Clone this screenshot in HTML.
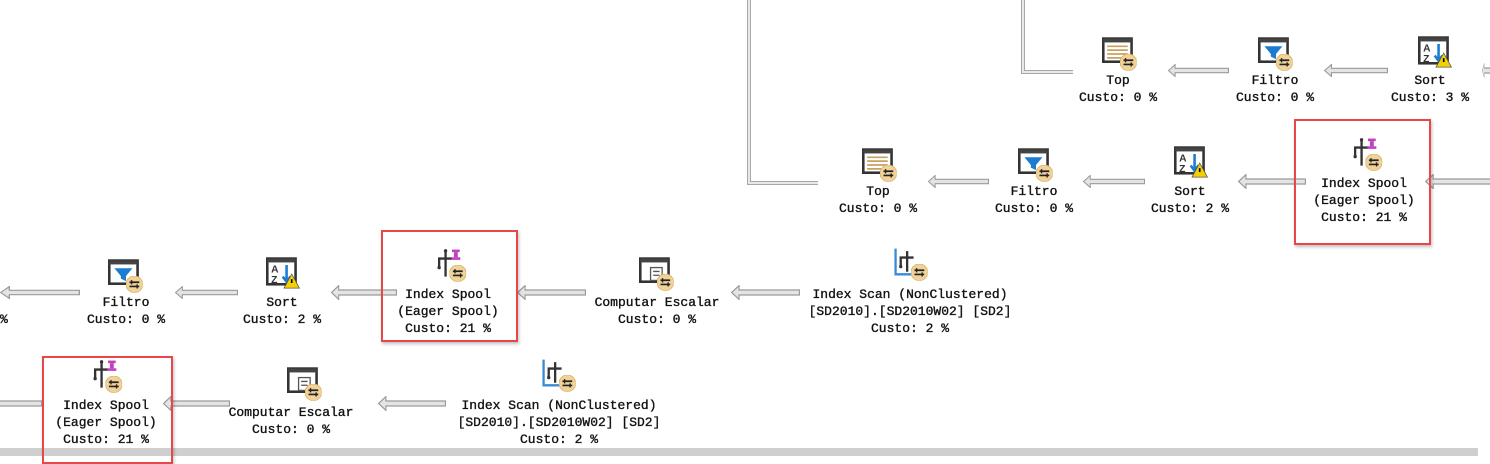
<!DOCTYPE html>
<html><head><meta charset="utf-8"><style>
body{margin:0;width:1490px;height:458px;background:#fff;position:relative;overflow:hidden;font-family:"Liberation Mono",monospace;font-size:13px;color:#111}
.t{position:absolute;text-align:center;white-space:pre;line-height:17px;transform:translateX(-50%);-webkit-text-stroke:0.35px #111;font-weight:normal}
.box{position:absolute;border:2px solid #e8474a;box-shadow:1px 2px 3px rgba(0,0,0,.25)}
svg{position:absolute;left:0;top:0}
</style></head><body>
<svg width="1490" height="458" viewBox="0 0 1490 458">
<defs>
<symbol id="badge" viewBox="0 0 12 12"><circle cx="6" cy="6" r="6" fill="#f0d29a" stroke="#d8b060" stroke-width=".6"/><path d="M2.5 4.5h7M2.5 7.5h7" stroke="#222" stroke-width="1.2"/><path d="M4 3v3M8 6v3" stroke="#222" stroke-width="1"/></symbol>
<symbol id="top" viewBox="0 0 28 28"><rect x="1" y="2" width="22" height="18" fill="#fff" stroke="#333" stroke-width="2"/><rect x="1" y="2" width="22" height="3" fill="#444"/><path d="M4 8h16M4 11h16M4 14h16M4 17h12" stroke="#c9a060" stroke-width="1.3"/><use href="#badge" x="14" y="14" width="13" height="13"/></symbol>
<symbol id="filt" viewBox="0 0 28 28"><rect x="1" y="2" width="22" height="18" fill="#fff" stroke="#333" stroke-width="2"/><rect x="1" y="2" width="22" height="3" fill="#444"/><path d="M5 8h14l-5 6v4l-4-2v-2z" fill="#1c7cd0"/><use href="#badge" x="14" y="14" width="13" height="13"/></symbol>
<symbol id="sort" viewBox="0 0 28 28"><rect x="1" y="2" width="22" height="20" fill="#fff" stroke="#333" stroke-width="2"/><rect x="1" y="2" width="22" height="3" fill="#444"/><text x="4" y="13" font-size="8" font-family="Liberation Sans" font-weight="bold" fill="#333">A</text><text x="4" y="21" font-size="8" font-family="Liberation Sans" font-weight="bold" fill="#333">Z</text><path d="M16 7v12M13 16l3 4 3-4" stroke="#1c7cd0" stroke-width="2" fill="none"/><path d="M20 14l6 11h-12z" fill="#f5d000" stroke="#555" stroke-width=".6"/><path d="M20 18v3" stroke="#000" stroke-width="1.3"/></symbol>
<symbol id="spool" viewBox="0 0 28 28"><path d="M9 3v20M9 9H4v7M9 9h5" stroke="#333" stroke-width="1.8" fill="none"/><circle cx="9" cy="3" r="1.3" fill="#333"/><circle cx="4" cy="16" r="1.3" fill="#333"/><rect x="14" y="2" width="6" height="2" fill="#c040c0"/><rect x="15.5" y="4" width="3" height="4" fill="#c040c0"/><rect x="13.5" y="8" width="7" height="2" fill="#c040c0"/><use href="#badge" x="12" y="14" width="13" height="13"/></symbol>
<symbol id="scan" viewBox="0 0 28 28"><path d="M2 2v20h20" stroke="#3a8ad8" stroke-width="1.8" fill="none"/><path d="M11 4v16M11 9H6v7M11 9h5" stroke="#333" stroke-width="1.8" fill="none"/><circle cx="6" cy="16" r="1.3" fill="#333"/><use href="#badge" x="14" y="14" width="13" height="13"/></symbol>
<symbol id="comp" viewBox="0 0 28 28"><rect x="1" y="2" width="22" height="18" fill="#fff" stroke="#333" stroke-width="2"/><rect x="1" y="2" width="22" height="3" fill="#444"/><rect x="9" y="9" width="9" height="10" fill="#fff" stroke="#555"/><path d="M11 12h5M11 15h5" stroke="#555"/><use href="#badge" x="14" y="14" width="13" height="13"/></symbol>
<symbol id="arr" viewBox="0 0 60 12" preserveAspectRatio="none"><path d="M0.5 6L7 0.5v3.5h52.5v4H7v3.5z" fill="#e4e4e4" stroke="#9a9a9a" stroke-width="1"/></symbol>
</defs>
<path d="M1023 0V72H1073" fill="none" stroke="#a8a8a8" stroke-width="4"/><path d="M1023 0V72H1073" fill="none" stroke="#e8e8e8" stroke-width="2"/>
<path d="M749 0V183H818" fill="none" stroke="#a8a8a8" stroke-width="4"/><path d="M749 0V183H818" fill="none" stroke="#e8e8e8" stroke-width="2"/>
<use href="#arr" x="1168" y="64" width="61" height="13"/>
<use href="#arr" x="1324" y="64" width="64" height="13"/>
<use href="#arr" x="1482" y="63" width="20" height="15"/>
<use href="#arr" x="928" y="175" width="61" height="13"/>
<use href="#arr" x="1083" y="175" width="62" height="13"/>
<use href="#arr" x="1238" y="174" width="68" height="15"/>
<use href="#arr" x="1425" y="174" width="70" height="15"/>
<use href="#arr" x="0" y="286" width="80" height="13"/>
<use href="#arr" x="175" y="286" width="63" height="13"/>
<use href="#arr" x="331" y="285" width="66" height="15"/>
<use href="#arr" x="517" y="285" width="69" height="15"/>
<use href="#arr" x="731" y="285" width="69" height="15"/>
<use href="#arr" x="-10" y="396" width="52" height="15"/>
<use href="#arr" x="163" y="396" width="67" height="15"/>
<use href="#arr" x="378" y="396" width="68" height="15"/>
<use href="#top" x="1102" y="36" width="36" height="36"/>
<use href="#filt" x="1258" y="36" width="36" height="36"/>
<use href="#sort" x="1418" y="35" width="36" height="36"/>
<use href="#top" x="862" y="147" width="36" height="36"/>
<use href="#filt" x="1018" y="147" width="36" height="36"/>
<use href="#sort" x="1174" y="145" width="36" height="36"/>
<use href="#spool" x="1350" y="136" width="36" height="36"/>
<use href="#filt" x="108" y="258" width="36" height="36"/>
<use href="#sort" x="266" y="256" width="36" height="36"/>
<use href="#spool" x="434" y="247" width="36" height="36"/>
<use href="#comp" x="639" y="256" width="36" height="36"/>
<use href="#scan" x="893" y="246" width="36" height="36"/>
<use href="#spool" x="90" y="358" width="36" height="36"/>
<use href="#comp" x="287" y="366" width="36" height="36"/>
<use href="#scan" x="541" y="357" width="36" height="36"/>
<rect x="0" y="448" width="1478" height="8" fill="#cfcfcf"/>
</svg>
<div class="box" style="left:1294px;top:119px;width:133px;height:122px"></div>
<div class="box" style="left:381px;top:230px;width:133px;height:108px"></div>
<div class="box" style="left:42px;top:356px;width:127px;height:104px"></div>
<div class="t" style="left:1118px;top:72px">Top
Custo: 0 %</div>
<div class="t" style="left:1275px;top:72px">Filtro
Custo: 0 %</div>
<div class="t" style="left:1430px;top:72px">Sort
Custo: 3 %</div>
<div class="t" style="left:878px;top:183px">Top
Custo: 0 %</div>
<div class="t" style="left:1034px;top:183px">Filtro
Custo: 0 %</div>
<div class="t" style="left:1190px;top:183px">Sort
Custo: 2 %</div>
<div class="t" style="left:1364px;top:175px">Index Spool
(Eager Spool)
Custo: 21 %</div>
<div class="t" style="left:0px;top:311px;transform:none">%</div>
<div class="t" style="left:126px;top:294px">Filtro
Custo: 0 %</div>
<div class="t" style="left:282px;top:294px">Sort
Custo: 2 %</div>
<div class="t" style="left:448px;top:286px">Index Spool
(Eager Spool)
Custo: 21 %</div>
<div class="t" style="left:657px;top:294px">Computar Escalar
Custo: 0 %</div>
<div class="t" style="left:910px;top:286px">Index Scan (NonClustered)
[SD2010].[SD2010W02] [SD2]
Custo: 2 %</div>
<div class="t" style="left:106px;top:397px">Index Spool
(Eager Spool)
Custo: 21 %</div>
<div class="t" style="left:291px;top:404px">Computar Escalar
Custo: 0 %</div>
<div class="t" style="left:559px;top:397px">Index Scan (NonClustered)
[SD2010].[SD2010W02] [SD2]
Custo: 2 %</div>
</body></html>
